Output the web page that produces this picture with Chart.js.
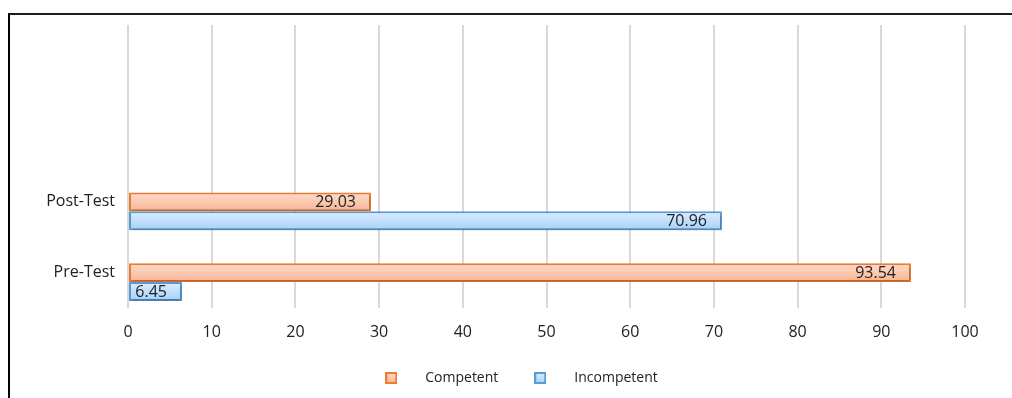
<!DOCTYPE html>
<html><head><meta charset="utf-8">
<script src="https://cdn.jsdelivr.net/npm/chart.js@4.4.1/dist/chart.umd.min.js"></script>
<style>
html,body{margin:0;padding:0;background:#fff;}
#wrap{position:relative;width:1012px;height:398px;overflow:hidden;}
#frame{position:absolute;left:8px;top:13px;right:-4px;bottom:-4px;border-left:2px solid #000;border-top:2px solid #1e1e1e;pointer-events:none;}
</style></head><body>
<div id="wrap"><canvas id="c" width="1012" height="398"></canvas><div id="frame"></div></div>
<script>
// ---- data ----
const categories = ['', '', 'Post-Test', 'Pre-Test'];
const seriesNames = ['Competent', 'Incompetent'];
const competent = [null, null, 29.03, 93.54];
const incompetent = [null, null, 70.96, 6.45];
const spacer = [null, null, null, null];
const xTicks = [0, 10, 20, 30, 40, 50, 60, 70, 80, 90, 100];

// ---- styles ----
const FONT = 'Open Sans';
const TEXT = '#222222';
const ORANGE = {border:'#ED7D31', top:'#FFDDCC', bottom:'#F8B493'};
const BLUE = {border:'#5B9BD5', top:'#DDEEFF', bottom:'#A6CFFA'};

function gradFill(pal){
  return function(c){
    const el = c.element;
    if (!el || !isFinite(el.y) || !isFinite(el.height) || !el.height) return pal.bottom;
    const h = Math.abs(el.height);
    const g = c.chart.ctx.createLinearGradient(0, el.y - h/2, 0, el.y + h/2);
    g.addColorStop(0, pal.top);
    g.addColorStop(1, pal.bottom);
    return g;
  };
}
function marker(pal){
  const cv = document.createElement('canvas');
  cv.width = 12; cv.height = 12;
  const x = cv.getContext('2d');
  const g = x.createLinearGradient(0,0,0,12);
  g.addColorStop(0, pal.top); g.addColorStop(1, pal.bottom);
  x.fillStyle = pal.border; x.fillRect(0,0,12,12);
  x.fillStyle = g; x.fillRect(2,2,8,8);
  return cv;
}
const markers = {1: marker(ORANGE), 2: marker(BLUE)};

const barShadow = {
  id:'barShadow',
  beforeDatasetDraw(chart){ const c = chart.ctx; c.save(); c.shadowColor='rgba(0,0,0,0.25)'; c.shadowBlur=3; c.shadowOffsetX=1; c.shadowOffsetY=2; },
  afterDatasetDraw(chart){ chart.ctx.restore(); }
};
const valueLabels = {
  id:'valueLabels',
  afterDatasetsDraw(chart){
    const ctx = chart.ctx;
    ctx.save();
    ctx.font = '16px "' + FONT + '"';
    ctx.fillStyle = TEXT; ctx.textAlign = 'right'; ctx.textBaseline = 'middle';
    chart.data.datasets.forEach((ds, di) => {
      if (!ds.label) return;
      chart.getDatasetMeta(di).data.forEach((el, i) => {
        const v = ds.data[i];
        if (v == null) return;
        ctx.fillText(v.toFixed(2), el.x - 15, el.y + 1);
      });
    });
    ctx.restore();
  }
};

const chart = new Chart(document.getElementById('c'), {
  type:'bar',
  data:{
    labels: categories,
    datasets:[
      {label:'', data: spacer},
      {label: seriesNames[0], data: competent, backgroundColor: gradFill(ORANGE), borderColor: ORANGE.border, borderWidth: 2, borderSkipped:false},
      {label: seriesNames[1], data: incompetent, backgroundColor: gradFill(BLUE), borderColor: BLUE.border, borderWidth: 2, borderSkipped:false}
    ]
  },
  options:{
    indexAxis:'y',
    responsive:false,
    animation:false,
    categoryPercentage:0.8,
    barPercentage:1,
    layout:{padding:{top:25, right:37, bottom:3, left:47}},
    scales:{
      x:{
        min:0, max:100,
        afterBuildTicks(s){ s.ticks = xTicks.map(v => ({value:v})); },
        ticks:{padding:15, color:TEXT, font:{family:FONT, size:16}},
        grid:{color:'#d9d9d9', lineWidth:2, drawTicks:false},
        border:{display:false},
        afterFit(s){ s.height = 48; }
      },
      y:{
        grid:{display:false, drawTicks:false},
        border:{display:false},
        ticks:{padding:13, color:TEXT, font:{family:FONT, size:16}},
        afterFit(s){ s.width = 81; }
      },
      yRight:{
        type:'linear', axis:'y', position:'right',
        grid:{display:false, drawTicks:false},
        border:{display:false},
        ticks:{display:false},
        afterFit(s){ s.width = 10; }
      }
    },
    plugins:{
      tooltip:{enabled:false},
      legend:{
        position:'bottom',
        labels:{
          usePointStyle:true, pointStyleWidth:54, padding:15,
          color:TEXT, font:{family:FONT, size:14},
          generateLabels(ch){
            return Chart.defaults.plugins.legend.labels.generateLabels(ch)
              .filter(it => it.text)
              .map(it => { it.pointStyle = markers[it.datasetIndex]; return it; });
          }
        }
      }
    }
  },
  plugins:[barShadow, valueLabels]
});
chart.update('none');
</script>
</body></html>
